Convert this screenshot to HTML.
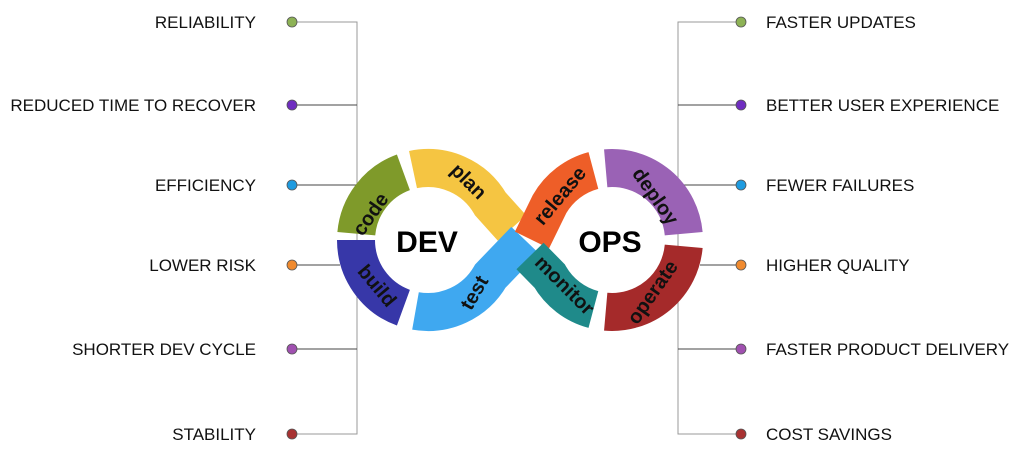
<!DOCTYPE html>
<html><head><meta charset="utf-8"><style>
html,body{margin:0;padding:0;background:#fff;width:1021px;height:466px;overflow:hidden}
svg{display:block}
text{font-family:"Liberation Sans",Arial,sans-serif}
.l{font-size:17px;fill:#111}
.s{font-size:20px;font-weight:bold;fill:#111}
</style></head><body>
<svg width="1021" height="466" viewBox="0 0 1021 466">
<g stroke="#444" stroke-width="1" fill="none">
<path d="M292 22H357V434H292" stroke="#999"/>
<path d="M292 105H357M292 185H357M292 265H340M292 349H357"/>
<path d="M741 22H678V434H741" stroke="#999"/>
<path d="M741 105H678M741 185H678M741 265H700M741 349H678"/>
</g>
<g fill="none" stroke-width="38">
<path d="M356.3 233.7 A72 72 0 0 1 403.4 172.3" stroke="#7f9a2a"/>
<path d="M413 169.6 A72 72 0 0 1 490.4 204 L512 228" stroke="#f5c542"/>
<path d="M525 240 L490.4 276 A72 72 0 0 1 415.5 310.9" stroke="#3fa8f0"/>
<path d="M403.4 307.7 A72 72 0 0 1 356 240" stroke="#3737a8"/>
<path d="M532 240 L549.6 204 A72 72 0 0 1 593.4 170.5" stroke="#ee5e28"/>
<path d="M605.7 168.3 A72 72 0 0 1 683.7 233.7" stroke="#9a62b5"/>
<path d="M683.7 246.3 A72 72 0 0 1 605.7 311.7" stroke="#a52a2a"/>
<path d="M593.4 309.5 A72 72 0 0 1 549.6 276 L530 256" stroke="#1f8a8a"/>
</g>
<g class="s">
<text transform="translate(376 218) rotate(-55)" text-anchor="middle">code</text>
<text transform="translate(464 186) rotate(45)" text-anchor="middle">plan</text>
<text transform="translate(372 290) rotate(50)" text-anchor="middle">build</text>
<text transform="translate(480 296) rotate(-60)" text-anchor="middle">test</text>
<text transform="translate(565 200) rotate(-50)" text-anchor="middle">release</text>
<text transform="translate(650 200) rotate(55)" text-anchor="middle">deploy</text>
<text transform="translate(560 290) rotate(45)" text-anchor="middle">monitor</text>
<text transform="translate(658 296) rotate(-55)" text-anchor="middle">operate</text>
</g>
<text x="427" y="252" font-size="30" font-weight="bold" text-anchor="middle" fill="#000">DEV</text>
<text x="610" y="252" font-size="30" font-weight="bold" text-anchor="middle" fill="#000">OPS</text>
<g stroke="#555" stroke-width="0.8">
<circle cx="292" cy="22" r="5" fill="#8db255"/><circle cx="292" cy="105" r="5" fill="#6f2dc0"/>
<circle cx="292" cy="185" r="5" fill="#1e9be0"/><circle cx="292" cy="265" r="5" fill="#f08a2e"/>
<circle cx="292" cy="349" r="5" fill="#a050b0"/><circle cx="292" cy="434" r="5" fill="#a83232"/>
<circle cx="741" cy="22" r="5" fill="#8db255"/><circle cx="741" cy="105" r="5" fill="#6f2dc0"/>
<circle cx="741" cy="185" r="5" fill="#1e9be0"/><circle cx="741" cy="265" r="5" fill="#f08a2e"/>
<circle cx="741" cy="349" r="5" fill="#a050b0"/><circle cx="741" cy="434" r="5" fill="#a83232"/>
</g>
<g class="l" text-anchor="end">
<text x="256" y="28">RELIABILITY</text>
<text x="256" y="111">REDUCED TIME TO RECOVER</text>
<text x="256" y="191">EFFICIENCY</text>
<text x="256" y="271">LOWER RISK</text>
<text x="256" y="355">SHORTER DEV CYCLE</text>
<text x="256" y="440">STABILITY</text>
</g>
<g class="l">
<text x="766" y="28">FASTER UPDATES</text>
<text x="766" y="111">BETTER USER EXPERIENCE</text>
<text x="766" y="191">FEWER FAILURES</text>
<text x="766" y="271">HIGHER QUALITY</text>
<text x="766" y="355">FASTER PRODUCT DELIVERY</text>
<text x="766" y="440">COST SAVINGS</text>
</g>
</svg>
</body></html>
